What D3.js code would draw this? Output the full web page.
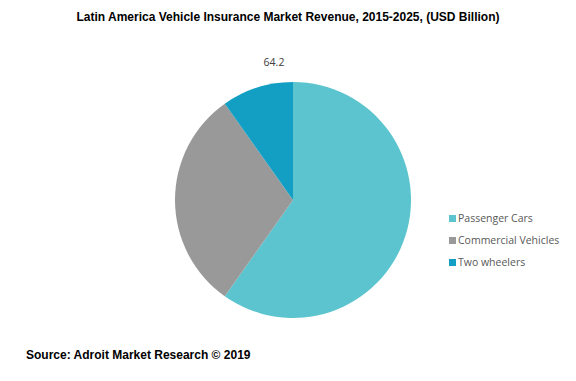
<!DOCTYPE html>
<html><head><meta charset="utf-8">
<script src="https://cdn.jsdelivr.net/npm/d3@7"></script>
<style>body{margin:0;background:#fff}</style>
</head><body>
<script>
const categories = ["Passenger Cars", "Commercial Vehicles", "Two wheelers"];
const values = [38.4, 19.5, 6.3];
const colors = ["#5BC4CE", "#999999", "#139FC3"];
const totalLabel = "64.2";

const W = 576, H = 381;
const svg = d3.select("body").append("svg").attr("width", W).attr("height", H);

svg.append("text").attr("x", 288).attr("y", 21).attr("text-anchor", "middle")
  .attr("font-family", "Liberation Sans, Arial, sans-serif").attr("font-weight", "bold")
  .attr("font-size", 12).attr("fill", "#000")
  .text("Latin  America Vehicle Insurance Market Revenue,  2015-2025, (USD Billion)");

const cx = 293, cy = 200, r = 118;
const pie = d3.pie().sort(null).value(d => d.v);
const arc = d3.arc().innerRadius(0).outerRadius(r);
const data = categories.map((c, i) => ({c, v: values[i], col: colors[i]}));
const g = svg.append("g").attr("transform", `translate(${cx},${cy})`);
g.selectAll("path").data(pie(data)).enter().append("path")
  .attr("d", arc).attr("fill", d => d.data.col);

svg.append("text").attr("x", 274).attr("y", 66).attr("text-anchor", "middle")
  .attr("font-family", "Open Sans, Noto Sans, sans-serif").attr("font-size", 10.5)
  .attr("fill", "#404040").text(totalLabel);

const leg = svg.append("g");
categories.forEach((c, i) => {
  const y = 218 + i * 22;
  leg.append("rect").attr("x", 449).attr("y", y - 3).attr("width", 7).attr("height", 7).attr("fill", colors[i]);
  leg.append("text").attr("x", 458).attr("y", y + 4)
    .attr("font-family", "Open Sans, Noto Sans, sans-serif").attr("font-size", 10.5)
    .attr("fill", "#595959").text(c);
});

svg.append("text").attr("x", 26).attr("y", 359)
  .attr("font-family", "Liberation Sans, Arial, sans-serif").attr("font-weight", "bold")
  .attr("font-size", 12).attr("fill", "#000")
  .text("Source: Adroit  Market Research © 2019");
</script>
</body></html>
